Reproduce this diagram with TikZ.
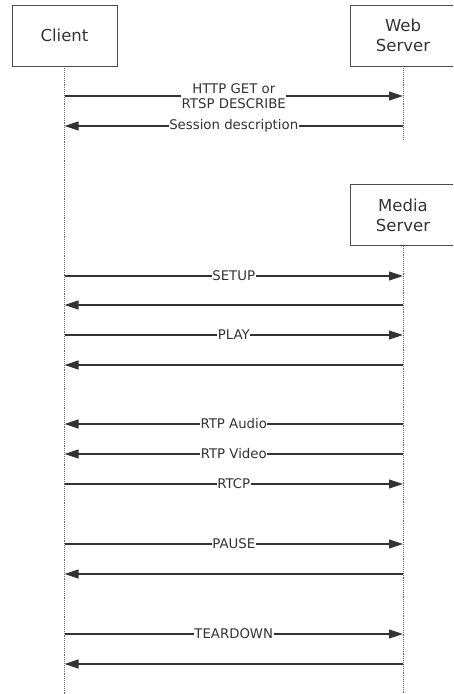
\documentclass[tikz,border=0pt]{standalone}
\usepackage{fontspec}
\setmainfont{DejaVu Sans}
\usetikzlibrary{arrows.meta}

\begin{document}
\begin{tikzpicture}[
    x=1pt, y=-1pt,
    actor/.style={draw=black!70, line width=0.8pt, minimum width=105pt, minimum height=61pt, inner sep=0pt, align=center, font=\fontsize{16.5}{20}\selectfont, text=black!80},
    life/.style={draw=black!60, line width=0.9pt, densely dotted},
    msg/.style={-{Triangle[length=14pt, width=9pt]}, line width=1.1pt, draw=black!80},
    lbl/.style={fill=white, inner xsep=0.5pt, inner ysep=1pt, align=center, font=\fontsize{13.3}{14.5}\selectfont, text=black!80}
]
\useasboundingbox (0,0) rectangle (453,694);
\begin{scope}
\clip (0,0) rectangle (453,694);
\node[actor] (client) at (64.5,35.5) {Client};
\node[actor] (web) at (403,35.5) {Web\\Server};
\node[actor] (media) at (403,215) {Media\\Server};
\coordinate (client end) at (64.5,694);
\coordinate (web end) at (403,140);
\coordinate (media end) at (403,694);

\draw[life] (client.south) -- (client end);
\draw[life] (web.south) -- (web end);
\draw[life] (media.south) -- (media end);

% web server exchange
\coordinate (c96) at (client |- 0,96);
\coordinate (w96) at (web |- 0,96);
\coordinate (c126) at (client |- 0,126);
\coordinate (w126) at (web |- 0,126);
\draw[msg] (c96) -- node[lbl] {HTTP GET or\\RTSP DESCRIBE} (w96);
\draw[msg] (w126) -- node[lbl] {Session description} (c126);

% requests to the media server
\foreach \y/\txt in {276/SETUP, 335/PLAY, 484/RTCP, 544/PAUSE, 634/TEARDOWN} {
    \coordinate (c\y) at (client |- 0,\y);
    \coordinate (m\y) at (media |- 0,\y);
    \draw[msg] (c\y) -- node[lbl] {\txt} (m\y);
}
% replies and streams
\foreach \y/\txt in {305/, 365/, 424/RTP Audio, 454/RTP Video, 574/, 664/} {
    \coordinate (c\y) at (client |- 0,\y);
    \coordinate (m\y) at (media |- 0,\y);
    \if\relax\detokenize\expandafter{\txt}\relax
        \draw[msg] (m\y) -- (c\y);
    \else
        \draw[msg] (m\y) -- node[lbl] {\txt} (c\y);
    \fi
}
\end{scope}
\end{tikzpicture}
\end{document}
